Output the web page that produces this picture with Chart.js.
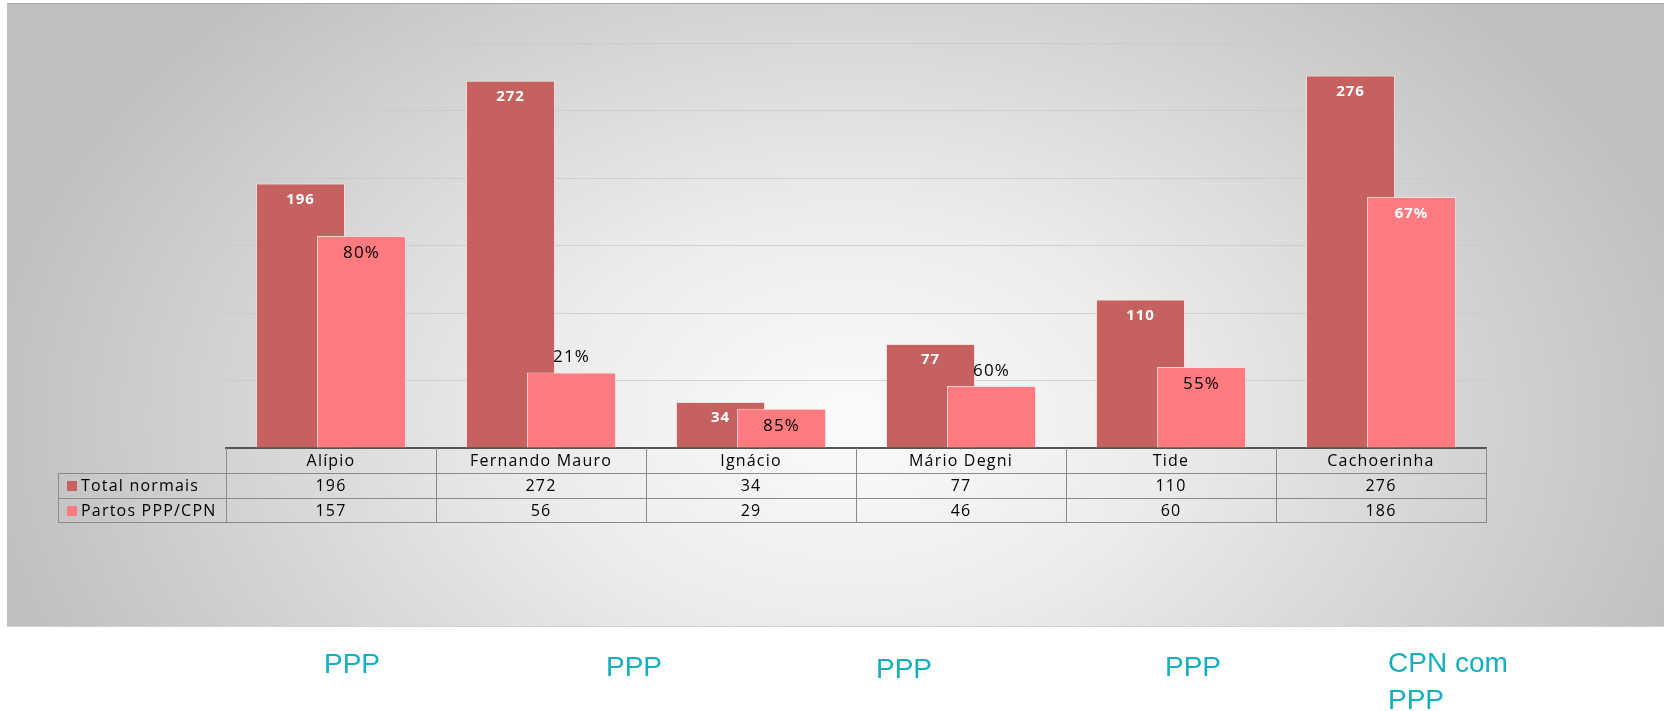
<!DOCTYPE html>
<html>
<head>
<meta charset="utf-8">
<script src="https://cdn.jsdelivr.net/npm/chart.js@4"></script>
<style>
  html, body { margin: 0; padding: 0; background: #ffffff; }
  #wrap { position: relative; width: 1664px; height: 711px; }
  canvas { display: block; }
</style>
</head>
<body>
<div id="wrap"><canvas id="c" width="1664" height="711"></canvas></div>
<script>
// ---- data ----
const categories = ['Alípio', 'Fernando Mauro', 'Ignácio', 'Mário Degni', 'Tide', 'Cachoerinha'];
const seriesNames = ['Total normais', 'Partos PPP/CPN'];
const totalNormais = [196, 272, 34, 77, 110, 276];
const partosPPP = [157, 56, 29, 46, 60, 186];
const pctLabels = ['80%', '21%', '85%', '60%', '55%', '67%'];
const pctPlacement = ['in', 'above', 'in', 'above', 'in', 'in'];
const unitTypes = ['PPP', 'PPP', 'PPP', 'PPP', 'CPN com\nPPP'];
const yTicks = [0, 50, 100, 150, 200, 250, 300];

const DARK = '#C5625F';
const PINK = '#FF7B80';
const FONT = '"Open Sans", "Noto Sans", sans-serif';

const bgPlugin = {
  id: 'bg',
  beforeDraw(chart) {
    const ctx = chart.ctx;
    ctx.save();
    ctx.fillStyle = '#ffffff';
    ctx.fillRect(0, 0, 1664, 711);
    ctx.save();
    ctx.beginPath();
    ctx.rect(7, 3, 1657, 623);
    ctx.clip();
    ctx.translate(850, 420);
    ctx.scale(1, 0.68);
    const g = ctx.createRadialGradient(0, 0, 0, 0, 0, 880);
    g.addColorStop(0, '#fbfbfb');
    g.addColorStop(0.35, '#ececec');
    g.addColorStop(1, '#bfbfbf');
    ctx.fillStyle = g;
    ctx.fillRect(-900, -700, 1800, 1400);
    ctx.restore();
    ctx.strokeStyle = '#a8a8a8';
    ctx.lineWidth = 1;
    ctx.beginPath(); ctx.moveTo(7, 3.5); ctx.lineTo(1664, 3.5); ctx.stroke();
    ctx.strokeStyle = '#d2d2d2';
    ctx.beginPath(); ctx.moveTo(7, 626.5); ctx.lineTo(1664, 626.5); ctx.stroke();
    ctx.restore();
  }
};

// draw the second series on top of the first (overlapping bars)
const overlapPlugin = {
  id: 'overlap',
  beforeDatasetDraw(chart, args) {
    if (args.index === 1 && !chart.$drawingTop) return false;
  },
  afterDatasetsDraw(chart) {
    chart.$drawingTop = true;
    const meta = chart.getDatasetMeta(1);
    meta.controller.draw();
    chart.$drawingTop = false;
  }
};

const labelPlugin = {
  id: 'barLabels',
  afterDatasetsDraw(chart) {
    const ctx = chart.ctx;
    ctx.save();
    ctx.textAlign = 'center';
    ctx.textBaseline = 'middle';
    const m0 = chart.getDatasetMeta(0);
    ctx.letterSpacing = '1px';
    ctx.fillStyle = '#ffffff';
    ctx.font = 'bold 15px ' + FONT;
    m0.data.forEach((bar, i) => {
      ctx.fillText(String(totalNormais[i]), bar.x, bar.y + 16);
    });
    const m1 = chart.getDatasetMeta(1);
    m1.data.forEach((bar, i) => {
      const last = i === m1.data.length - 1;
      if (last) {
        ctx.fillStyle = '#ffffff';
        ctx.font = 'bold 15px ' + FONT;
        ctx.letterSpacing = '1px';
      } else {
        ctx.fillStyle = '#000000';
        ctx.font = '17px ' + FONT;
        ctx.letterSpacing = '1.2px';
      }
      const y = pctPlacement[i] === 'in' ? bar.y + 17 : bar.y - 15;
      ctx.fillText(pctLabels[i], bar.x, y);
    });
    ctx.restore();
  }
};

const tablePlugin = {
  id: 'dataTable',
  afterDraw(chart) {
    const ctx = chart.ctx;
    const xs = chart.scales.x;
    const left = chart.chartArea.left, right = chart.chartArea.right;
    const top = chart.chartArea.bottom;
    const rowH = 25;
    const legendLeft = 58;
    const n = categories.length;
    const cw = (right - left) / n;
    ctx.save();
    ctx.strokeStyle = '#8a8a8a';
    ctx.lineWidth = 1;
    ctx.beginPath();
    ctx.moveTo(legendLeft, top + rowH + 0.5); ctx.lineTo(right, top + rowH + 0.5);
    ctx.moveTo(legendLeft, top + 2 * rowH + 0.5); ctx.lineTo(right, top + 2 * rowH + 0.5);
    ctx.moveTo(legendLeft, top + 3 * rowH - 0.5); ctx.lineTo(right, top + 3 * rowH - 0.5);
    for (let i = 0; i <= n; i++) {
      const x = Math.round(left + i * cw) + 0.5;
      ctx.moveTo(x, top); ctx.lineTo(x, top + 3 * rowH);
    }
    ctx.moveTo(legendLeft + 0.5, top + rowH); ctx.lineTo(legendLeft + 0.5, top + 3 * rowH);
    ctx.stroke();

    ctx.fillStyle = '#000000';
    ctx.font = '16px ' + FONT;
    ctx.letterSpacing = '1.2px';
    ctx.textAlign = 'center';
    ctx.textBaseline = 'alphabetic';
    categories.forEach((c, i) => {
      const cx = xs.getPixelForValue(i);
      ctx.fillText(c, cx, top + 18);
      ctx.fillText(String(totalNormais[i]), cx, top + rowH + 18);
      ctx.fillText(String(partosPPP[i]), cx, top + 2 * rowH + 18);
    });
    const colors = [DARK, PINK];
    ctx.textAlign = 'left';
    seriesNames.forEach((s, r) => {
      const y = top + (r + 1) * rowH;
      ctx.fillStyle = colors[r];
      ctx.fillRect(67, y + 8, 10, 10);
      ctx.fillStyle = '#000000';
      ctx.fillText(s, 81, y + 18);
    });
    ctx.restore();

    ctx.save();
    ctx.fillStyle = '#12AFBC';
    ctx.font = '28px "Liberation Sans", Arial, sans-serif';
    ctx.textAlign = 'left';
    ctx.textBaseline = 'alphabetic';
    const ux = [324, 606, 876, 1165, 1388];
    const uy = [673, 676, 678, 676, 672];
    unitTypes.forEach((t, i) => {
      t.split('\n').forEach((line, k) => {
        ctx.fillText(line, ux[i], uy[i] + k * 37);
      });
    });
    ctx.restore();
  }
};

new Chart(document.getElementById('c'), {
  type: 'bar',
  data: {
    labels: categories,
    datasets: [
      { label: seriesNames[0], data: totalNormais, backgroundColor: DARK,
        borderColor: 'rgba(255,215,215,0.85)', borderWidth: 1, borderSkipped: 'bottom' },
      { label: seriesNames[1], data: partosPPP, backgroundColor: PINK,
        borderColor: 'rgba(255,220,222,0.9)', borderWidth: 1, borderSkipped: 'bottom' }
    ]
  },
  options: {
    responsive: false,
    animation: false,
    devicePixelRatio: 1,
    layout: { padding: { left: 0, right: 178, top: 43, bottom: 0 } },
    datasets: { bar: { categoryPercentage: 0.581, barPercentage: 1.459 } },
    plugins: { legend: { display: false }, tooltip: { enabled: false }, title: { display: false } },
    scales: {
      x: {
        type: 'category',
        offset: true,
        grid: { display: false, drawTicks: false },
        ticks: { display: false },
        border: { display: true, color: '#555555', width: 2 },
        afterFit(s) { s.height = 711 - 448; }
      },
      y: {
        min: 0, max: 300,
        afterBuildTicks(s) { s.ticks = yTicks.map(v => ({ value: v })); },
        ticks: { display: false },
        grid: { color: 'rgba(200,200,200,0.75)', drawTicks: false, lineWidth: 1 },
        border: { display: false },
        afterFit(s) { s.width = 226; }
      }
    }
  },
  plugins: [bgPlugin, overlapPlugin, labelPlugin, tablePlugin]
});
</script>
</body>
</html>
